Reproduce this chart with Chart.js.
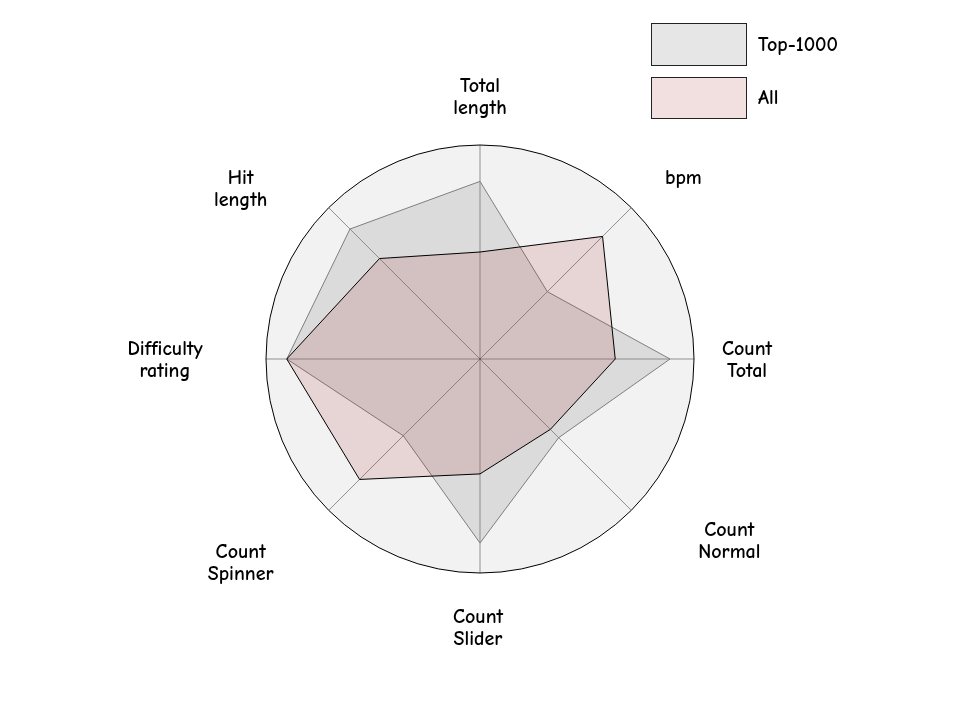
<!DOCTYPE html>
<html><head><meta charset="utf-8">
<script src="https://cdn.jsdelivr.net/npm/chart.js@4.4.0/dist/chart.umd.min.js"></script>
<style>html,body{margin:0;padding:0;background:#fff}canvas{display:block}</style>
</head><body>
<canvas id="c" width="960" height="720"></canvas>
<script>
// ---- data ----
const categories = [["Total","length"],["bpm"],["Count","Total"],["Count","Normal"],["Count","Slider"],["Count","Spinner"],["Difficulty","rating"],["Hit","length"]];
const seriesNames = ["Top-1000", "All"];
const top1000Values = [0.83, 0.445, 0.888, 0.52, 0.86, 0.507, 0.903, 0.859];
const allValues = [0.50, 0.81, 0.632, 0.465, 0.537, 0.796, 0.903, 0.664];

const FONT_FAMILY = '"Comic Sans MS", "Comic Neue", "DejaVu Sans", sans-serif';
const FONT = '700 20px ' + FONT_FAMILY;

// label placement nudges relative to spoke ends (layout only)
const labelNudges = [[0,-48],[52,-29],[53,1],[98,31],[-2,55],[-88,53],[-101,1],[-88,-18]];

const pointLabelPlugin = {
  id: 'customPointLabels',
  afterDraw(chart) {
    const scale = chart.scales.r;
    const ctx = chart.ctx;
    ctx.save();
    ctx.font = FONT;
    ctx.fillStyle = '#000';
    ctx.textAlign = 'center';
    ctx.textBaseline = 'middle';
    const lineH = 22;
    categories.forEach((lines, i) => {
      const p = scale.getPointPosition(i, scale.drawingArea);
      const cx = p.x + labelNudges[i][0];
      const cy = p.y + labelNudges[i][1];
      const n = lines.length;
      lines.forEach((t, k) => {
        ctx.fillText(t, cx, cy + (k - (n - 1) / 2) * lineH);
      });
    });
    // legend
    const boxes = [[651, 23, 95, 42], [651, 77, 95, 41]];
    chart.data.datasets.forEach((ds, i) => {
      const b = boxes[i];
      ctx.fillStyle = '#fff';
      ctx.fillRect(b[0], b[1], b[2], b[3]);
      ctx.fillStyle = ds.backgroundColor;
      ctx.fillRect(b[0], b[1], b[2], b[3]);
      ctx.lineWidth = 1;
      ctx.strokeStyle = '#222';
      ctx.strokeRect(b[0] + 0.5, b[1] + 0.5, b[2], b[3]);
      ctx.fillStyle = '#000';
      ctx.textAlign = 'left';
      ctx.fillText(ds.label, 758, b[1] + b[3] / 2 + 1);
    });
    ctx.restore();
  }
};

new Chart(document.getElementById('c'), {
  type: 'radar',
  data: {
    labels: categories,
    datasets: [
      {
        label: seriesNames[0],
        data: top1000Values,
        backgroundColor: 'rgba(128,128,128,0.2)',
        borderColor: '#7f7f7f',
        borderWidth: 1,
        pointRadius: 0,
        order: 2,
        fill: true
      },
      {
        label: seriesNames[1],
        data: allValues,
        backgroundColor: 'rgba(165,42,42,0.15)',
        borderColor: '#000',
        borderWidth: 1,
        pointRadius: 0,
        order: 1,
        fill: true
      }
    ]
  },
  options: {
    responsive: false,
    animation: false,
    devicePixelRatio: 1,
    layout: { padding: { left: 266, right: 266, top: 145, bottom: 147 } },
    elements: { line: { tension: 0 } },
    plugins: { legend: { display: false }, tooltip: { enabled: false } },
    scales: {
      r: {
        min: 0,
        max: 1,
        backgroundColor: '#f2f2f2',
        ticks: { display: false, stepSize: 1 },
        pointLabels: { display: false },
        grid: { circular: true, color: '#000', lineWidth: 1 },
        angleLines: { color: 'rgba(0,0,0,0.4)', lineWidth: 1 }
      }
    }
  },
  plugins: [pointLabelPlugin]
});
</script>
</body></html>
